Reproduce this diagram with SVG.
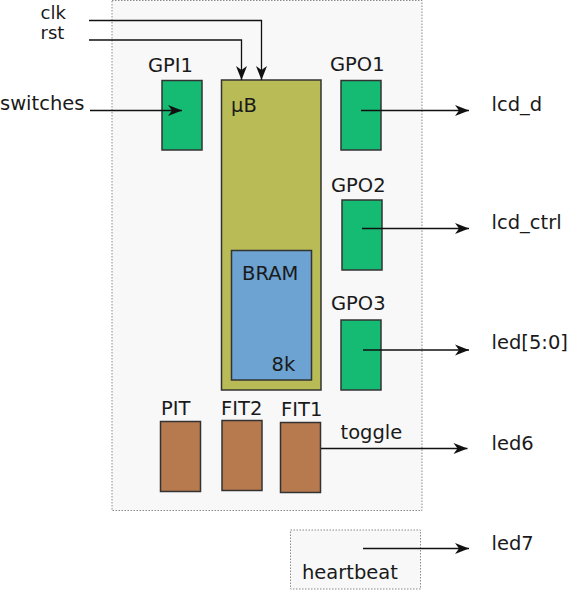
<svg xmlns="http://www.w3.org/2000/svg" width="571" height="590" viewBox="0 0 571 590">
  <style>
    text { font-family: "DejaVu Sans", Verdana, sans-serif; font-size: 19.5px; fill: #1a1a1a; }
    .sm { font-size: 18px; }
    .frame { fill: #f8f8f8; stroke: #8a8a8a; stroke-width: 1; stroke-dasharray: 1.5 1.5; }
    .blk { stroke: #333; stroke-width: 1.5; }
    .gp { fill: #16bb73; }
    .mb { fill: #b9bc56; }
    .ram { fill: #6ca3d2; }
    .tm { fill: #b77a4e; }
    .wire { fill: none; stroke: #111; stroke-width: 1.3; marker-end: url(#arr); }
  </style>
  <defs>
    <marker id="arr" markerUnits="userSpaceOnUse" viewBox="-15 -6 16 12" refX="0" refY="0" markerWidth="16" markerHeight="12" orient="auto">
      <path d="M0,0 L-14,-5.5 L-10,0 L-14,5.5 Z" fill="#111"/>
    </marker>
  </defs>

  <g id="fpga">
    <rect class="frame" x="112" y="0.5" width="310" height="510"/>
  </g>
  <g id="heartbeat-box">
    <rect class="frame" x="290.5" y="530" width="130" height="59"/>
    <text x="302" y="579">heartbeat</text>
  </g>

  <g id="GPI1">
    <rect class="blk gp" x="162" y="80.5" width="40" height="69.5"/>
    <text x="148" y="71.5">GPI1</text>
  </g>
  <g id="uB">
    <rect class="blk mb" x="221.5" y="80" width="99.5" height="310"/>
    <text x="231" y="111.5">µB</text>
  </g>
  <g id="BRAM">
    <rect class="blk ram" x="231.5" y="250.5" width="80" height="129.5"/>
    <text x="242" y="280">BRAM</text>
    <text x="271.5" y="370.5">8k</text>
  </g>
  <g id="GPO1">
    <rect class="blk gp" x="341" y="80.5" width="40" height="69.5"/>
    <text x="330" y="71">GPO1</text>
  </g>
  <g id="GPO2">
    <rect class="blk gp" x="342" y="200" width="40" height="70"/>
    <text x="331" y="191.5">GPO2</text>
  </g>
  <g id="GPO3">
    <rect class="blk gp" x="341" y="320" width="40" height="70"/>
    <text x="331" y="310">GPO3</text>
  </g>
  <g id="PIT">
    <rect class="blk tm" x="160.5" y="421.5" width="40" height="70"/>
    <text x="161" y="415">PIT</text>
  </g>
  <g id="FIT2">
    <rect class="blk tm" x="222" y="420.5" width="40" height="70"/>
    <text x="221" y="414.5">FIT2</text>
  </g>
  <g id="FIT1">
    <rect class="blk tm" x="280.5" y="422.5" width="40" height="70"/>
    <text x="281" y="415.5">FIT1</text>
  </g>

  <g id="labels">
    <text class="sm" x="40.5" y="18.5">clk</text>
    <text class="sm" x="40.5" y="39">rst</text>
    <text x="0" y="110">switches</text>
    <text x="491.5" y="110.5">lcd_d</text>
    <text x="491.5" y="228.5">lcd_ctrl</text>
    <text x="491.5" y="348.5">led[5:0]</text>
    <text x="340.5" y="438.5">toggle</text>
    <text x="491.5" y="449.5">led6</text>
    <text x="491.5" y="549.5">led7</text>
  </g>

  <g id="connectors">
    <polyline class="wire" points="89,20.5 261.5,20.5 261.5,80"/>
    <polyline class="wire" points="89,40 241.5,40 241.5,80"/>
    <line class="wire" x1="90" y1="110.5" x2="182" y2="110.5"/>
    <line class="wire" x1="361" y1="110.5" x2="469" y2="110.5"/>
    <line class="wire" x1="362" y1="228.5" x2="469" y2="228.5"/>
    <line class="wire" x1="363" y1="350" x2="469" y2="350"/>
    <line class="wire" x1="321" y1="448.5" x2="467.5" y2="448.5"/>
    <line class="wire" x1="363" y1="548.5" x2="469" y2="548.5"/>
  </g>
</svg>
